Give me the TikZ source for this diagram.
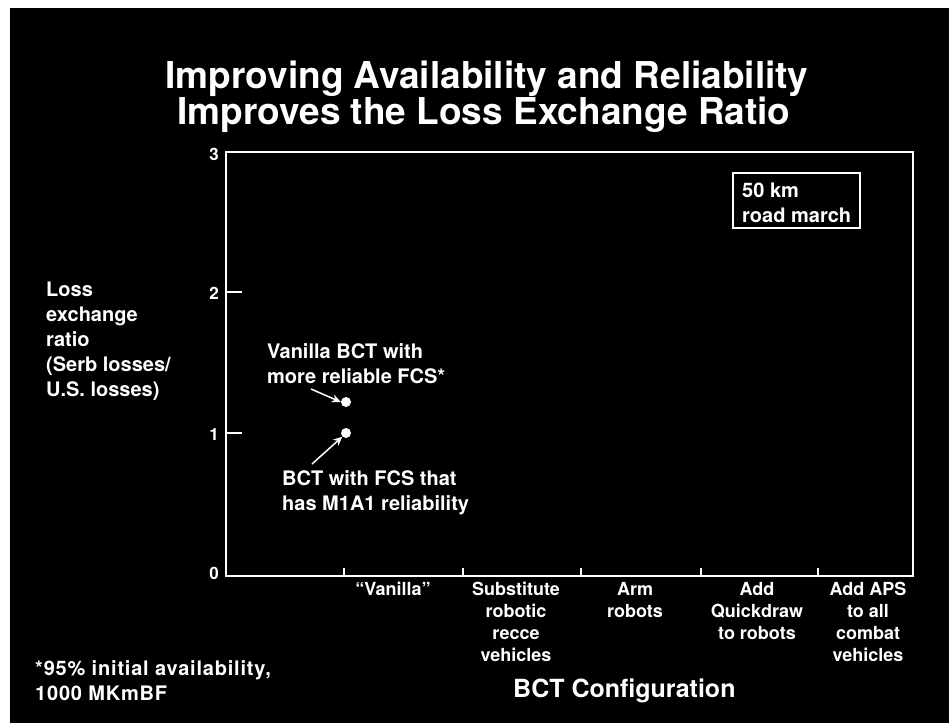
\documentclass[tikz,border=0pt]{standalone}
\usepackage{fontspec}
\setmainfont{TeX Gyre Heros}
\usetikzlibrary{arrows.meta}
\begin{document}
\begin{tikzpicture}[x=1pt,y=-1pt,
  txt/.style={text=white, font=\bfseries, inner sep=0pt},
  axis/.style={draw=white, line width=1.4pt},
  tick/.style={draw=white, line width=1.4pt},
  num/.style={txt, anchor=base east, font=\bfseries\fontsize{17}{17}\selectfont},
  cat/.style={txt, align=center, anchor=base, font=\bfseries\fontsize{18}{22}\selectfont},
  body/.style={txt, align=left, anchor=base west, font=\bfseries\fontsize{20}{25}\selectfont},
  ptr/.style={draw=white, line width=1.5pt, -{Stealth[length=9pt,width=8pt]}},
  dot/.style={circle, fill=white, minimum size=10pt, inner sep=0pt}]
\useasboundingbox (0,0) rectangle (949,723);
\fill[white] (0,0) rectangle (949,723);
\fill[black] (10,8) rectangle (949,723);
% title
\node[txt, anchor=base, font=\bfseries\fontsize{37}{37}\selectfont] (t1) at (487,88) {Improving Availability and Reliability};
\node[txt, anchor=base, font=\bfseries\fontsize{37}{37}\selectfont] (t2) at (484,124) {Improves the Loss Exchange Ratio};
% axes
\draw[axis] (226,152) rectangle (913,576);
\coordinate (y2) at (226,292);
\coordinate (y1) at (226,433);
\draw[tick] (y2) -- ++(16,0);
\draw[tick] (y1) -- ++(16,0);
\foreach \x/\n in {344/a,463/b,581/c,701/d,818/e}{
  \coordinate (xt\n) at (\x,576);
  \draw[tick] (xt\n) -- ++(0,-8);
}
% tick labels
\node[num] (l3) at (219,160) {3};
\node[num] (l2) at (219,299) {2};
\node[num] (l1) at (219,440) {1};
\node[num] (l0) at (219,579) {0};
% y label
\node[body] (ylab) at (46,396) {Loss\\exchange\\ratio\\(Serb losses/\\U.S. losses)};
% categories
\node[cat] (c1) at (393,595) {``Vanilla''};
\node[cat] (c2) at (516,661) {Substitute\\robotic\\recce\\vehicles};
\node[cat] (c3) at (635,617) {Arm\\robots};
\node[cat] (c4) at (757,639) {Add\\Quickdraw\\to robots};
\node[cat] (c5) at (868,661) {Add APS\\to all\\combat\\vehicles};
\node[txt, anchor=base west, font=\bfseries\fontsize{25}{25}\selectfont] (xlab) at (513,697) {BCT Configuration};
% footnote
\node[body, font=\bfseries\fontsize{20}{25}\selectfont\addfontfeature{LetterSpace=4}] (foot) at (35,700) {*95\% initial availability,\\1000 MKmBF};
% box
\node[body] (road) at (742,222) {50 km\\road march};
\draw[draw=white, line width=1.2pt] (733,173) rectangle (860,228);
% data
\node[dot] (p1) at (346,402) {};
\node[dot] (p0) at (346,433) {};
\node[body] (a1) at (267,383) {Vanilla BCT with\\more reliable FCS*};
\node[body] (a0) at (282,510) {BCT with FCS that\\has M1A1 reliability};
\coordinate (s1) at (311,389);
\coordinate (s0) at (312,464);
\draw[ptr] (s1) -- (p1.west);
\draw[ptr] (s0) -- (p0.south west);
\end{tikzpicture}
\end{document}
